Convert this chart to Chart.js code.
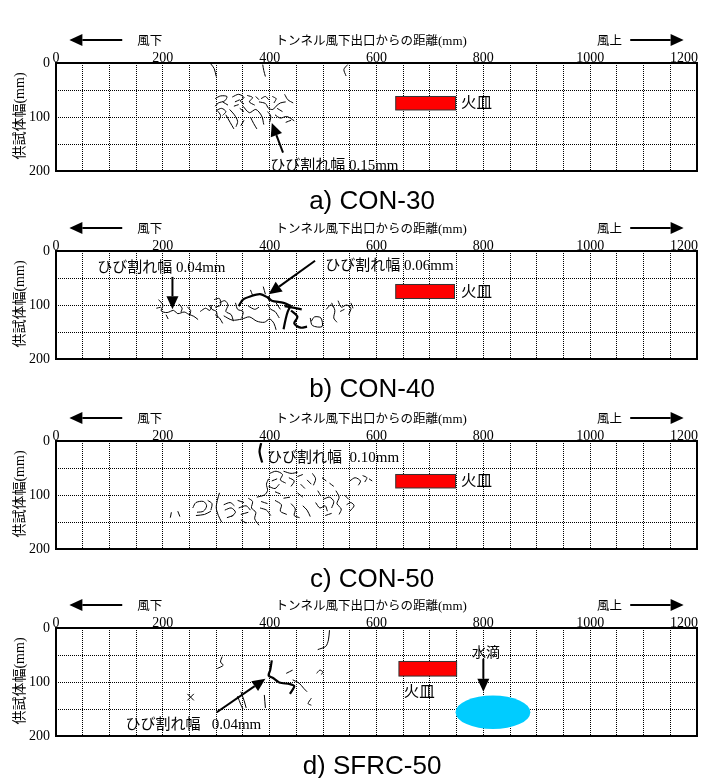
<!DOCTYPE html>
<html>
<head>
<meta charset="utf-8">
<script src="https://cdn.jsdelivr.net/npm/chart.js@4.4.1/dist/chart.umd.min.js"></script>
<style>
body { margin: 0; background: #fff; }
#wrap { position: relative; width: 709px; height: 778px; overflow: hidden; }
.panel { position: absolute; left: 0; width: 709px; height: 215px; }
</style>
</head>
<body>
<div id="wrap">
  <div class="panel" style="top:0px"><canvas id="p0"></canvas></div>
  <div class="panel" style="top:188px"><canvas id="p1"></canvas></div>
  <div class="panel" style="top:378px"><canvas id="p2"></canvas></div>
  <div class="panel" style="top:565px"><canvas id="p3"></canvas></div>
</div>
<script>
// axis labels / titles
const xTicks = [0, 200, 400, 600, 800, 1000, 1200];
const yTicks = [0, 100, 200];
const captions = ['a) CON-30', 'b) CON-40', 'c) CON-50', 'd) SFRC-50'];
const crackWidths = ['0.15mm', '0.04mm', '0.06mm', '0.10mm', '0.04mm'];

// crack traces, [distance mm, width mm]
const cracksA = [
  [[290,2],[296,10],[300,25]],
  [[387,3],[389,14],[392,25]],
  [[546,3],[539,12],[543,24]],
  [[298,66],[308,61],[320,62],[316,70],[304,74],[298,80]],
  [[300,88],[310,84],[318,90],[312,97]],
  [[330,63],[342,58],[352,64],[345,70],[352,76]],
  [[335,72],[344,68]],
  [[333,80],[342,77]],
  [[358,60],[368,64],[362,72],[372,78]],
  [[374,62],[380,68]],
  [[380,72],[392,75],[398,84],[406,86],[412,80],[420,74],[430,72]],
  [[428,58],[434,68],[444,74]],
  [[302,88],[308,97],[305,106]],
  [[318,96],[326,110],[333,122]],
  [[325,86],[334,96],[340,108],[337,118]],
  [[350,80],[362,92],[374,86],[385,98],[389,114]],
  [[364,100],[370,112],[376,122]],
  [[396,90],[402,98],[400,110]],
  [[410,96],[420,102],[432,99],[446,107]],
  [[430,110],[440,106]],
  [[352,106],[346,116]],
  [[384,66],[392,62],[398,68]],
  [[405,62],[412,66],[408,74]],
  [[344,84],[352,90]],
  [[312,72],[322,78]],
  [[414,84],[424,90]]
];
const boldA = [];

const cracksB = [
  [[192,90],[200,100],[197,111],[208,114],[220,110],[228,116],[240,113],[248,117],[258,121],[266,127]],
  [[196,104],[188,106]],
  [[206,118],[210,126]],
  [[230,98],[236,106],[234,113]],
  [[246,104],[252,110],[250,120]],
  [[270,112],[280,106],[288,110],[292,100]],
  [[286,100],[292,108],[300,112],[302,124]],
  [[296,90],[306,88],[308,100],[298,104]],
  [[306,96],[316,92],[322,100],[318,112],[328,118],[332,130]],
  [[298,118],[306,124],[312,134]],
  [[314,120],[330,128],[348,126],[362,122],[376,130],[390,132],[400,126],[408,134],[412,146]],
  [[336,96],[340,108],[350,112],[348,124]],
  [[364,72],[368,82]],
  [[388,66],[392,80]],
  [[360,102],[372,108],[380,104]],
  [[396,98],[402,108],[410,112],[418,124]],
  [[412,96],[420,108]],
  [[476,124],[480,138],[498,140],[496,124],[484,122],[478,130]],
  [[506,108],[514,100],[520,104]],
  [[516,96],[522,110],[520,124],[526,132]],
  [[528,92],[534,104],[544,100],[552,106],[548,118]],
  [[532,112],[540,108]],
  [[552,96],[556,106]]
];
const boldB = [
  [[342,102],[350,90],[364,84],[382,80],[396,86],[404,92],[426,96],[440,102]],
  [[440,100],[434,112],[430,126],[426,145]],
  [[440,110],[452,122],[446,134],[458,142],[470,140]],
  [[428,102],[460,108]],
  [[400,92],[398,84]]
];

const cracksC = [
  [[214,142],[216,132]],
  [[228,130],[232,140]],
  [[256,124],[262,114],[276,112],[282,120],[276,130],[264,132]],
  [[262,138],[278,136],[290,130]],
  [[284,110],[292,116],[290,128]],
  [[306,96],[302,110],[300,124],[304,138],[310,150]],
  [[314,118],[326,114],[334,120]],
  [[316,128],[328,124],[336,132],[328,140]],
  [[320,142],[332,138]],
  [[340,110],[352,114]],
  [[342,124],[356,120],[364,128]],
  [[346,136],[360,132]],
  [[360,106],[368,112],[366,124],[374,132],[372,144],[380,156]],
  [[376,104],[390,100],[396,92],[394,80],[398,70]],
  [[384,112],[396,116]],
  [[382,124],[394,128],[402,138]],
  [[400,60],[412,56],[424,62],[420,72],[430,78]],
  [[404,74],[414,70]],
  [[398,84],[410,88],[418,80]],
  [[426,56],[440,60],[452,58]],
  [[436,68],[446,74],[440,84]],
  [[452,66],[462,62]],
  [[410,110],[422,118],[420,130],[432,136]],
  [[426,106],[438,104]],
  [[440,116],[448,126],[446,138],[456,142]],
  [[452,96],[462,104]],
  [[462,120],[470,128],[476,140]],
  [[470,72],[478,80]],
  [[480,60],[486,70],[482,82]],
  [[490,92],[496,102]],
  [[486,114],[494,124],[504,120],[508,130]],
  [[500,108],[512,104],[520,112],[516,124]],
  [[512,78],[520,84]],
  [[524,92],[530,104],[526,116],[534,126],[530,136]],
  [[540,100],[548,108]],
  [[544,118],[552,114],[558,120],[550,130]],
  [[550,74],[560,68],[570,74],[566,82]],
  [[574,64],[582,68],[578,76]],
  [[586,70],[592,74]],
  [[504,138],[516,134]],
  [[346,146],[356,152]],
  [[410,94],[420,98]],
  [[458,80],[466,88]],
  [[498,68],[506,74]]
];
const boldC = [
  [[384,4],[381,20],[386,40]]
];

const cracksD = [
  [[512,4],[510,22],[505,34],[490,40]],
  [[311,53],[308,63],[313,69],[302,75]],
  [[246,122],[258,134]],
  [[258,122],[246,134]],
  [[431,84],[443,78]],
  [[443,96],[455,102],[464,112],[470,118]],
  [[488,84],[494,78],[500,82],[496,86]],
  [[478,130],[472,140],[478,143]],
  [[390,124],[392,148]],
  [[346,118],[352,134],[356,148]],
  [[340,126],[346,142],[350,150]]
];
const boldD = [
  [[404,60],[401,78],[398,88],[407,93],[418,101],[438,104],[446,108],[438,122]]
];

// fire tray [x0, y0, x1, y1] and water drop [cx, cy, rx, ry] in mm
const trays = [[636,62,748,87], [636,62,746,88], [636,62,748,87], [642,62,750,89]];
const waterDrop = [818, 156, 70, 31];

const CJK = '"Noto Sans CJK JP", sans-serif';
const SERIF = '"Liberation Serif", serif';
const SANS = '"Liberation Sans", Arial, sans-serif';

const panels = [
  { cracks: cracksA, bold: boldA, tray: trays[0], trayText: { x: 758, y: 74, align: 'left' },
    arrows: [[425,166,404,111]],
    notes: [{ x: 401, y: 188, w: crackWidths[0], size: 15, gap: ' ' }] },
  { cracks: cracksB, bold: boldB, tray: trays[1], trayText: { x: 758, y: 75, align: 'left' },
    arrows: [[218,48,218,108], [485,18,398,80]],
    notes: [{ x: 77, y: 28, w: crackWidths[1], size: 15, gap: ' ' },
            { x: 504, y: 25, w: crackWidths[2], size: 15, gap: ' ' }] },
  { cracks: cracksC, bold: boldC, tray: trays[2], trayText: { x: 758, y: 74, align: 'left' },
    arrows: [],
    notes: [{ x: 395, y: 29, w: crackWidths[3], size: 15, gap: '  ' }] },
  { cracks: cracksD, bold: boldD, tray: trays[3], trayText: { x: 680, y: 117, align: 'center' },
    arrows: [[301,156,392,94], [800,57,800,118]],
    notes: [{ x: 130, y: 177, w: crackWidths[4], size: 15, gap: '   ' }],
    drop: waterDrop, dropText: { x: 805, y: 44 } }
];

function mixed(ctx, parts, x, y, align) {
  // parts: [text, font]; y is the baseline
  let w = 0;
  parts.forEach(p => { ctx.font = p[1]; w += ctx.measureText(p[0]).width; });
  let cx = align === 'center' ? x - w / 2 : align === 'right' ? x - w : x;
  ctx.textAlign = 'left';
  ctx.textBaseline = 'alphabetic';
  parts.forEach(p => {
    ctx.font = p[1];
    ctx.fillText(p[0], cx, y);
    cx += ctx.measureText(p[0]).width;
  });
}

function arrow(ctx, x1, y1, x2, y2, head, half, lw) {
  const ang = Math.atan2(y2 - y1, x2 - x1);
  const bx = x2 - head * Math.cos(ang), by = y2 - head * Math.sin(ang);
  ctx.strokeStyle = '#000';
  ctx.fillStyle = '#000';
  ctx.lineWidth = lw;
  ctx.beginPath();
  ctx.moveTo(x1, y1);
  ctx.lineTo(bx, by);
  ctx.stroke();
  ctx.beginPath();
  ctx.moveTo(x2, y2);
  ctx.lineTo(bx + half * Math.sin(ang), by - half * Math.cos(ang));
  ctx.lineTo(bx - half * Math.sin(ang), by + half * Math.cos(ang));
  ctx.closePath();
  ctx.fill();
}

function makeDeco(p, i) {
  return {
    id: 'deco' + i,
    afterDatasetsDraw(chart) {
      const { ctx, scales: { x, y } } = chart;
      ctx.save();

      // fire tray
      const t = p.tray;
      const tx0 = x.getPixelForValue(t[0]), tx1 = x.getPixelForValue(t[2]);
      const ty0 = y.getPixelForValue(t[1]), ty1 = y.getPixelForValue(t[3]);
      ctx.fillStyle = '#ff0000';
      ctx.fillRect(tx0, ty0, tx1 - tx0, ty1 - ty0);
      ctx.strokeStyle = '#333';
      ctx.lineWidth = 1;
      ctx.strokeRect(tx0, ty0, tx1 - tx0, ty1 - ty0);
      ctx.fillStyle = '#000';
      mixed(ctx, [['火皿', '15.5px ' + CJK]], x.getPixelForValue(p.trayText.x),
            y.getPixelForValue(p.trayText.y) + 5.5, p.trayText.align);

      // water drop
      if (p.drop) {
        const d = p.drop;
        const cx = x.getPixelForValue(d[0]), cy = y.getPixelForValue(d[1]);
        const rx = Math.abs(x.getPixelForValue(d[0] + d[2]) - cx);
        const ry = Math.abs(y.getPixelForValue(d[1] + d[3]) - cy);
        ctx.fillStyle = '#00ccff';
        ctx.beginPath();
        ctx.ellipse(cx, cy, rx, ry, 0, 0, Math.PI * 2);
        ctx.fill();
        ctx.fillStyle = '#000';
        mixed(ctx, [['水滴', '14px ' + CJK]], x.getPixelForValue(p.dropText.x),
              y.getPixelForValue(p.dropText.y) + 5, 'center');
      }

      p.arrows.forEach(ar => {
        arrow(ctx, x.getPixelForValue(ar[0]), y.getPixelForValue(ar[1]),
              x.getPixelForValue(ar[2]), y.getPixelForValue(ar[3]), 13, 6, 2);
      });

      ctx.fillStyle = '#000';
      p.notes.forEach(n => {
        mixed(ctx, [['ひび割れ幅', n.size + 'px ' + CJK], [n.gap + n.w, n.size + 'px ' + SERIF]],
              x.getPixelForValue(n.x), y.getPixelForValue(n.y) + n.size * 0.36, 'left');
      });
      ctx.restore();
    },
    afterDraw(chart) {
      const { ctx, chartArea: a, scales: { x } } = chart;
      ctx.save();
      // frame
      ctx.strokeStyle = '#000';
      ctx.lineWidth = 2;
      ctx.strokeRect(a.left, a.top, a.right - a.left, a.bottom - a.top);

      // last x tick label sits flush with the right edge
      ctx.fillStyle = '#000';
      mixed(ctx, [[String(xTicks[xTicks.length - 1]), '14px ' + SERIF]], a.right + 1, a.top - 1.5, 'right');

      // wind direction row above the axis
      const rowY = a.top - 23;
      arrow(ctx, x.getPixelForValue(124), rowY, x.getPixelForValue(25), rowY, 13, 6, 2);
      arrow(ctx, x.getPixelForValue(1075), rowY, x.getPixelForValue(1175), rowY, 13, 6, 2);
      ctx.fillStyle = '#000';
      mixed(ctx, [['風下', '12.5px ' + CJK]], x.getPixelForValue(152), rowY + 4.5, 'left');
      mixed(ctx, [['風上', '12.5px ' + CJK]], x.getPixelForValue(1013), rowY + 4.5, 'left');
      mixed(ctx, [['トンネル風下出口からの距離', '12.5px ' + CJK], ['(mm)', '13px ' + SERIF]],
            x.getPixelForValue(590), rowY + 4.5, 'center');

      // y axis title
      ctx.translate(19, (a.top + a.bottom) / 2 - 1);
      ctx.rotate(-Math.PI / 2);
      mixed(ctx, [['供試体幅', '14px ' + CJK], ['(mm)', '14px ' + SERIF]], 0, 5, 'center');
      ctx.restore();

      // caption
      ctx.save();
      ctx.fillStyle = '#000';
      ctx.font = '26px ' + SANS;
      ctx.textAlign = 'center';
      ctx.textBaseline = 'middle';
      ctx.fillText(captions[i], 372, a.bottom + 31);
      ctx.restore();
    }
  };
}

function buildDatasets(p) {
  const ds = [];
  p.cracks.forEach(c => ds.push({
    data: c.map(pt => ({ x: pt[0], y: pt[1] })),
    showLine: true, pointRadius: 0, borderColor: '#000', borderWidth: 1, tension: 0.3
  }));
  p.bold.forEach(c => ds.push({
    data: c.map(pt => ({ x: pt[0], y: pt[1] })),
    showLine: true, pointRadius: 0, borderColor: '#000', borderWidth: 2.2, tension: 0.3
  }));
  return ds;
}

panels.forEach((p, i) => {
  const ctx = document.getElementById('p' + i).getContext('2d');
  new Chart(ctx, {
    type: 'scatter',
    data: { datasets: buildDatasets(p) },
    options: {
      responsive: true,
      maintainAspectRatio: false,
      animation: false,
      events: [],
      layout: { padding: { left: 0, right: 12, top: 0, bottom: 44 } },
      plugins: { legend: { display: false }, tooltip: { enabled: false } },
      scales: {
        x: {
          type: 'linear', position: 'top', min: 0, max: 1200,
          afterFit: s => { s.height = 63; },
          ticks: {
            stepSize: 50, autoSkip: false, maxRotation: 0, padding: -4, color: '#000',
            font: { family: 'Liberation Serif', size: 14 },
            callback: v => (xTicks.includes(v) && v !== xTicks[xTicks.length - 1]) ? v : ''
          },
          grid: { color: '#000', lineWidth: 1, drawTicks: false },
          border: { display: false, dash: [1, 1] }
        },
        y: {
          type: 'linear', reverse: true, min: 0, max: 200,
          afterFit: s => { s.width = 56; },
          ticks: {
            stepSize: 50, autoSkip: false, padding: 6, color: '#000',
            font: { family: 'Liberation Serif', size: 14 },
            callback: v => yTicks.includes(v) ? v : ''
          },
          grid: { color: '#000', lineWidth: 1, drawTicks: false },
          border: { display: false, dash: [1, 1] }
        }
      }
    },
    plugins: [makeDeco(p, i)]
  });
});
</script>
</body>
</html>
